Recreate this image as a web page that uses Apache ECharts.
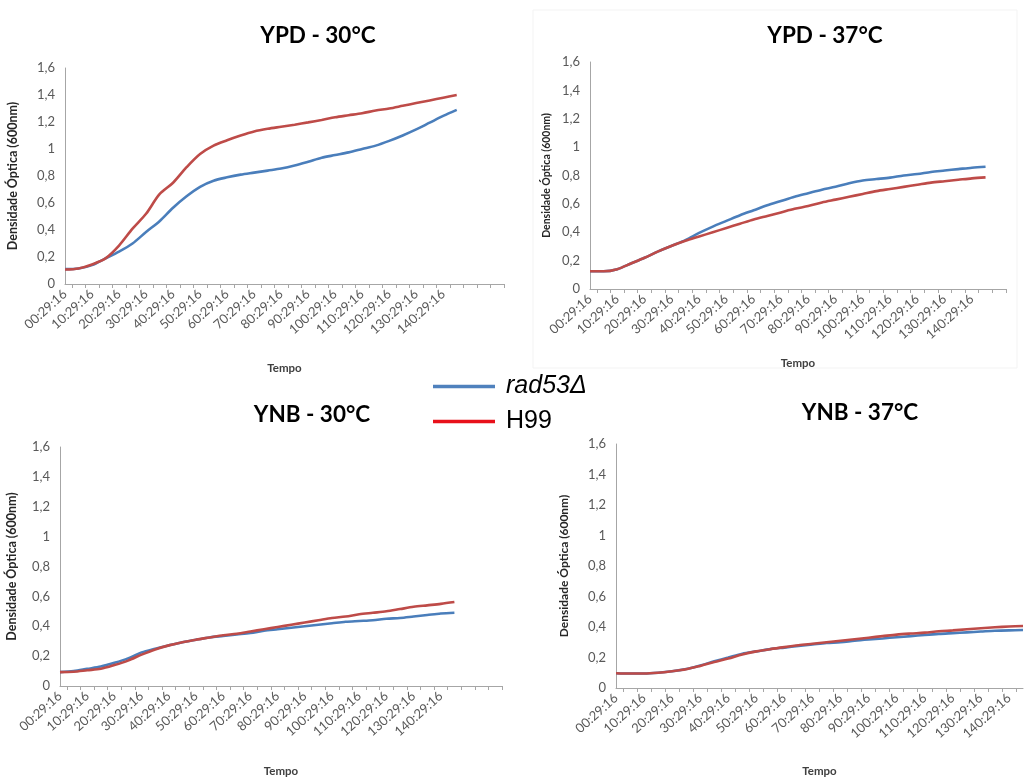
<!DOCTYPE html>
<html>
<head>
<meta charset="utf-8">
<script src="https://cdn.jsdelivr.net/npm/echarts@6/dist/echarts.min.js"></script>
<style>
html,body{margin:0;padding:0;background:#fff;}
#chart{width:1027px;height:778px;}
</style>
</head>
<body>
<div id="chart"></div>
<script>
// ---- data ----
const hours = [0,5,10,15,20,25,30,35,40,45,50,55,60,65,70,75,80,85,90,95,100,105,110,115,120,125,130,135,140,145];
const labelHours = [0,10,20,30,40,50,60,70,80,90,100,110,120,130,140];
const titles = ['YPD - 30°C','YPD - 37°C','YNB - 30°C','YNB - 37°C'];
const seriesNames = ['rad53Δ','H99'];

const ypd30_rad53 = [0.11,0.115,0.14,0.19,0.24,0.30,0.385,0.465,0.565,0.65,0.72,0.765,0.79,0.81,0.825,0.84,0.855,0.877,0.905,0.935,0.955,0.975,1.0,1.025,1.06,1.10,1.145,1.195,1.245,1.29];
const ypd30_h99   = [0.107,0.115,0.145,0.19,0.285,0.41,0.52,0.665,0.75,0.865,0.963,1.025,1.065,1.10,1.13,1.15,1.165,1.18,1.197,1.215,1.235,1.25,1.265,1.285,1.30,1.32,1.34,1.36,1.38,1.40];

const ypd37_rad53 = [0.125,0.125,0.14,0.18,0.22,0.265,0.305,0.345,0.395,0.44,0.48,0.52,0.555,0.59,0.62,0.65,0.675,0.70,0.72,0.745,0.765,0.775,0.785,0.80,0.81,0.825,0.835,0.845,0.855,0.862];
const ypd37_h99   = [0.125,0.125,0.14,0.18,0.22,0.265,0.305,0.34,0.37,0.40,0.43,0.46,0.49,0.515,0.54,0.565,0.585,0.61,0.63,0.65,0.67,0.69,0.705,0.72,0.735,0.75,0.76,0.77,0.78,0.787];

const ynb30_rad53 = [0.093,0.10,0.115,0.13,0.155,0.185,0.225,0.25,0.272,0.293,0.31,0.325,0.335,0.345,0.355,0.37,0.38,0.39,0.40,0.41,0.42,0.43,0.435,0.44,0.45,0.455,0.465,0.475,0.485,0.49];
const ynb30_h99   = [0.093,0.095,0.105,0.115,0.14,0.17,0.21,0.245,0.272,0.293,0.31,0.325,0.34,0.35,0.365,0.38,0.395,0.41,0.425,0.44,0.455,0.465,0.48,0.49,0.50,0.515,0.53,0.54,0.55,0.562];

const ynb37_rad53 = [0.097,0.095,0.095,0.10,0.11,0.125,0.148,0.175,0.20,0.225,0.24,0.255,0.265,0.275,0.285,0.295,0.30,0.31,0.318,0.325,0.333,0.34,0.348,0.355,0.36,0.365,0.37,0.375,0.378,0.38];
const ynb37_h99   = [0.097,0.095,0.095,0.10,0.11,0.123,0.145,0.17,0.193,0.22,0.24,0.255,0.268,0.28,0.29,0.30,0.31,0.32,0.33,0.34,0.35,0.357,0.363,0.372,0.378,0.385,0.392,0.398,0.403,0.407];

const panelData = [
  [ypd30_rad53, ypd30_h99],
  [ypd37_rad53, ypd37_h99],
  [ynb30_rad53, ynb30_h99],
  [ynb37_rad53, ynb37_h99]
];

// ---- layout ----
const panels = [
  {left:65,  top:68,  width:439, height:216, xmax:162.5, title:[313,19], yGap:46, xGap:78, yNameSize:12.5},
  {left:590, top:62,  width:416, height:227, xmax:152.5, title:[820,19], yGap:38, xGap:68, yNameSize:10.5},
  {left:60,  top:447, width:442, height:240, xmax:162.5, title:[307,398], yGap:42, xGap:79, yNameSize:12.5},
  {left:616, top:444, width:407, height:248, xmax:145,   title:[855,396], yGap:46, xGap:77, yNameSize:12}
];

const colors = ['#4a7ebb','#be4b48'];
const font = 'Lato, "Open Sans", sans-serif';

function fmtHour(h){ return (h < 10 ? '0' + h : String(h)) + ':29:16'; }
function fmtY(v){ return Math.abs(v - Math.round(v)) < 1e-9 ? String(Math.round(v)) : v.toFixed(1).replace('.', ','); }

const grid = [], xAxis = [], yAxis = [], series = [], title = [];
panels.forEach((p, i) => {
  grid.push({left:p.left, top:p.top, width:p.width, height:p.height, containLabel:false});
  const ticks = [];
  for (let t = 2.5; t <= p.xmax + 1e-9; t += 5) ticks.push(t);
  xAxis.push({
    type:'value', gridIndex:i, min:0, max:p.xmax, interval:5,
    name:'Tempo', nameLocation:'middle', nameGap:p.xGap,
    nameTextStyle:{fontFamily:font, fontWeight:'bold', fontSize:11.5, color:'#404040'},
    axisLine:{show:true, lineStyle:{color:'#a6a6a6', width:1}},
    axisTick:{show:true, length:4, lineStyle:{color:'#a6a6a6'}, customValues:ticks},
    axisLabel:{show:true, rotate:42, margin:8, fontFamily:font, fontSize:13, color:'#595959',
      customValues:labelHours, formatter:(v)=>fmtHour(v)},
    splitLine:{show:false}
  });
  yAxis.push({
    type:'value', gridIndex:i, min:0, max:1.6, interval:0.2,
    name:'Densidade Óptica (600nm)', nameLocation:'middle', nameGap:p.yGap,
    nameTextStyle:{fontFamily:font, fontWeight:'bold', fontSize:p.yNameSize, color:'#262626'},
    axisLine:{show:true, lineStyle:{color:'#a6a6a6', width:1}},
    axisTick:{show:false},
    axisLabel:{fontFamily:font, fontSize:13, color:'#595959', margin:10, formatter:fmtY},
    splitLine:{show:false}
  });
  title.push({
    text:titles[i], left:p.title[0], top:p.title[1], textAlign:'center',
    textStyle:{fontFamily:font, fontWeight:'bold', fontSize:22.5, color:'#000'}
  });
  panelData[i].forEach((vals, k) => {
    series.push({
      type:'line', name:seriesNames[k], xAxisIndex:i, yAxisIndex:i,
      data:vals.map((v, j) => [hours[j], v]),
      showSymbol:false, symbol:'none', smooth:0.3,
      lineStyle:{color:colors[k], width:2.6},
      itemStyle:{color:colors[k]},
      z: k === 0 ? 2 : 3
    });
  });
});

const chart = echarts.init(document.getElementById('chart'), null, {renderer:'canvas'});
chart.setOption({
  animation:false,
  backgroundColor:'#ffffff',
  title, grid, xAxis, yAxis, series,
  legend:{
    orient:'vertical', left:428, top:369, itemWidth:62, itemHeight:3.5, itemGap:10,
    icon:'rect',
    data:[
      {name:'rad53Δ', itemStyle:{color:'#4f81bd'}},
      {name:'H99', itemStyle:{color:'#e8101a'}}
    ],
    formatter:(n)=> n === 'rad53Δ' ? '{i|' + n + '}' : n,
    textStyle:{fontFamily:'"Liberation Sans", Arial, sans-serif', fontSize:25, color:'#000', padding:[0,0,0,6],
      rich:{i:{fontFamily:'"Liberation Sans", Arial, sans-serif', fontSize:25, fontStyle:'italic', color:'#000'}}}
  },
  graphic:[
    {type:'rect', shape:{x:533, y:10, width:484, height:358}, style:{fill:'none', stroke:'#f3f3f3', lineWidth:1}, silent:true}
  ]
});
</script>
</body>
</html>
